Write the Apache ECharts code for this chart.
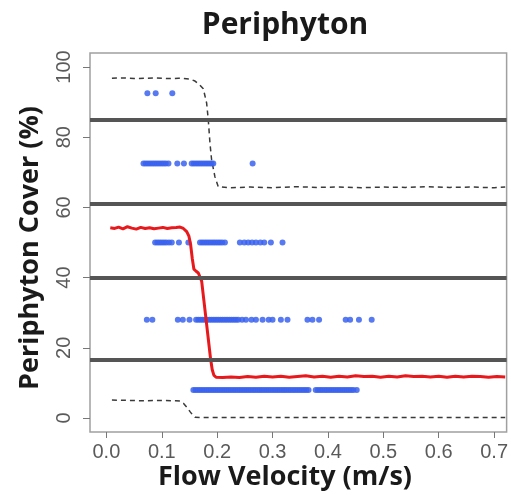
<!DOCTYPE html>
<html>
<head>
<meta charset="utf-8">
<script src="https://cdn.jsdelivr.net/npm/echarts@6/dist/echarts.min.js"></script>
<style>
  html, body { margin: 0; padding: 0; background: #fff; }
  #chart { width: 511px; height: 495px; }
</style>
</head>
<body>
<div id="chart"></div>
<script>
// Periphyton cover class (%) observed at each flow velocity (m/s)
const coverLevels = [92.5, 72.5, 50, 28, 8];
const obs925 = [0.074, 0.089, 0.119];
const obs725 = [0.067, 0.071, 0.075, 0.079, 0.083, 0.087, 0.091, 0.095, 0.099, 0.103, 0.107, 0.112,
  0.128, 0.140,
  0.154, 0.158, 0.162, 0.166, 0.170, 0.174, 0.178, 0.182, 0.186, 0.190, 0.193,
  0.264];
const obs50 = [0.088, 0.092, 0.096, 0.100, 0.104, 0.108, 0.113, 0.118,
  0.131, 0.148,
  0.169, 0.173, 0.177, 0.181, 0.185, 0.189, 0.193, 0.197, 0.201, 0.205, 0.209, 0.214,
  0.241, 0.249, 0.256, 0.263, 0.270, 0.278, 0.285, 0.297,
  0.318];
const obs28 = [0.073, 0.083,
  0.129, 0.138, 0.150,
  0.162, 0.166, 0.170, 0.174, 0.178, 0.182, 0.186, 0.190, 0.194, 0.198, 0.202, 0.206, 0.210,
  0.214, 0.218, 0.222, 0.226, 0.230, 0.234, 0.238,
  0.245, 0.252, 0.262, 0.270, 0.282, 0.293, 0.300, 0.315, 0.327,
  0.363, 0.372, 0.384,
  0.432, 0.440, 0.456,
  0.479];
const obs8 = [0.157, 0.161, 0.165, 0.169, 0.173, 0.177, 0.181, 0.185, 0.189, 0.193, 0.197,
  0.201, 0.205, 0.209, 0.213, 0.217, 0.221, 0.225, 0.229, 0.233, 0.237, 0.241, 0.245, 0.249,
  0.253, 0.257, 0.261, 0.265, 0.269, 0.273, 0.277, 0.281, 0.285, 0.289, 0.293, 0.297,
  0.301, 0.305, 0.309, 0.313, 0.317, 0.321, 0.325, 0.329, 0.333, 0.337, 0.341, 0.345,
  0.349, 0.353, 0.357, 0.361, 0.365,
  0.378, 0.382, 0.386, 0.390, 0.394, 0.398, 0.402, 0.406, 0.410, 0.414, 0.418, 0.422,
  0.426, 0.430, 0.434, 0.438, 0.442, 0.446, 0.452];

// Fitted mean cover (solid) and its upper / lower bounds (dashed)
const meanCurve = [
  [0.007, 54.2], [0.015, 54.0], [0.022, 54.4], [0.030, 53.9], [0.038, 54.5], [0.046, 54.1],
  [0.054, 53.8], [0.062, 54.3], [0.070, 54.0], [0.078, 54.2], [0.086, 53.9], [0.094, 54.1],
  [0.102, 54.3], [0.110, 54.0], [0.118, 54.2], [0.126, 54.3], [0.133, 54.4], [0.139, 54.0],
  [0.145, 53.1], [0.149, 51.8], [0.152, 49.5], [0.155, 45.5], [0.158, 42.4], [0.162, 41.8],
  [0.166, 41.3], [0.169, 41.0], [0.172, 39.0], [0.176, 33.5], [0.180, 28.0], [0.184, 22.5],
  [0.188, 17.0], [0.191, 13.8], [0.194, 12.2], [0.198, 11.6], [0.210, 11.5], [0.225, 11.7],
  [0.240, 11.5], [0.255, 11.8], [0.270, 11.6], [0.285, 11.9], [0.300, 11.7], [0.315, 11.9],
  [0.330, 11.6], [0.345, 11.8], [0.360, 12.0], [0.375, 11.7], [0.390, 11.9], [0.405, 11.6],
  [0.420, 11.9], [0.435, 11.7], [0.450, 12.0], [0.465, 11.8], [0.480, 11.9], [0.495, 11.6],
  [0.510, 11.9], [0.525, 11.7], [0.540, 12.0], [0.555, 11.8], [0.570, 11.9], [0.585, 11.7],
  [0.600, 11.9], [0.615, 11.6], [0.630, 11.9], [0.645, 11.7], [0.660, 11.9], [0.675, 11.8],
  [0.690, 11.6], [0.705, 11.8], [0.720, 11.7]
];
const upperBound = [
  [0.010, 96.8], [0.030, 96.9], [0.050, 96.7], [0.070, 96.8], [0.090, 96.9], [0.110, 96.7],
  [0.130, 96.8], [0.150, 96.6], [0.160, 96.0], [0.168, 95.0], [0.175, 93.8], [0.181, 89.7],
  [0.184, 84.9], [0.187, 78.3], [0.190, 73.5], [0.196, 68.7], [0.202, 65.9], [0.220, 65.6],
  [0.260, 65.8], [0.300, 65.6], [0.340, 65.9], [0.380, 65.7], [0.420, 65.8], [0.460, 65.6],
  [0.500, 65.8], [0.540, 65.7], [0.580, 65.9], [0.620, 65.7], [0.660, 65.8], [0.700, 65.6],
  [0.720, 65.8]
];
const lowerBound = [
  [0.010, 5.1], [0.040, 5.0], [0.070, 4.9], [0.100, 5.0], [0.125, 4.9], [0.133, 4.8],
  [0.139, 4.2], [0.145, 3.1], [0.151, 1.8], [0.156, 0.8], [0.160, 0.2], [0.170, 0.1],
  [0.250, 0.1], [0.350, 0.1], [0.450, 0.1], [0.550, 0.1], [0.650, 0.1], [0.720, 0.1]
];

// Cover class boundaries drawn as horizontal rules
const classBreaks = [85, 61, 40, 16.5];

const xTicks = [0, 0.1, 0.2, 0.3, 0.4, 0.5, 0.6, 0.7];
const yTicks = [0, 20, 40, 60, 80, 100];

const obsGroups = [obs925, obs725, obs50, obs28, obs8];
const scatterData = [];
obsGroups.forEach((xs, i) => xs.forEach(v => scatterData.push([v, coverLevels[i]])));

const chart = echarts.init(document.getElementById('chart'));
const tickColor = '#777';
const labelFont = 'Liberation Sans, Arial, sans-serif';
const titleFont = 'Open Sans, DejaVu Sans, sans-serif';

chart.setOption({
  animation: false,
  backgroundColor: '#fff',
  grid: {
    left: 90, top: 53, right: 2, bottom: 63,
    show: true, borderColor: '#a0a0a0', borderWidth: 1.5, backgroundColor: 'transparent'
  },
  xAxis: {
    type: 'value', min: -0.0296, max: 0.7226,
    axisLine: { show: false, onZero: false },
    splitLine: { show: false },
    axisTick: { show: true, customValues: xTicks, length: 6, lineStyle: { color: tickColor } },
    axisLabel: {
      customValues: xTicks, margin: 10, color: '#5a5a5a', fontSize: 20, fontFamily: labelFont,
      formatter: v => v.toFixed(1)
    }
  },
  yAxis: {
    type: 'value', min: -4, max: 104,
    axisLine: { show: false, onZero: false },
    splitLine: { show: false },
    axisTick: { show: true, customValues: yTicks, length: 7, lineStyle: { color: tickColor } },
    axisLabel: {
      customValues: yTicks, rotate: 90, margin: 16, color: '#5a5a5a', fontSize: 20,
      fontFamily: labelFont
    }
  },
  graphic: [
    {
      type: 'text', x: 285, y: 25,
      style: { text: 'Periphyton', fill: '#1a1a1a', font: 'bold 30px ' + titleFont,
        textAlign: 'center', textVerticalAlign: 'middle' }
    },
    {
      type: 'text', x: 285, y: 477,
      style: { text: 'Flow Velocity (m/s)', fill: '#1a1a1a', font: 'bold 27px ' + titleFont,
        textAlign: 'center', textVerticalAlign: 'middle' }
    },
    {
      type: 'text', x: 30, y: 248, rotation: Math.PI / 2,
      style: { text: 'Periphyton Cover (%)', fill: '#1a1a1a', font: 'bold 27px ' + titleFont,
        textAlign: 'center', textVerticalAlign: 'middle' }
    }
  ],
  series: [
    {
      type: 'line', data: [], silent: true, z: 1,
      markLine: {
        silent: true, symbol: 'none', label: { show: false },
        lineStyle: { color: '#555', width: 4, type: 'solid' },
        data: classBreaks.map(v => ({ yAxis: v }))
      }
    },
    {
      type: 'scatter', data: scatterData, symbol: 'circle', symbolSize: 6, z: 3,
      itemStyle: { color: '#3a62ee', opacity: 0.85 }
    },
    {
      type: 'line', data: upperBound, showSymbol: false, z: 2,
      lineStyle: { color: '#3a3a3a', width: 1.5, type: [5, 4] }
    },
    {
      type: 'line', data: lowerBound, showSymbol: false, z: 2,
      lineStyle: { color: '#3a3a3a', width: 1.5, type: [5, 4] }
    },
    {
      type: 'line', data: meanCurve, showSymbol: false, z: 4,
      lineStyle: { color: '#e8191c', width: 3 }
    }
  ]
});
</script>
</body>
</html>
